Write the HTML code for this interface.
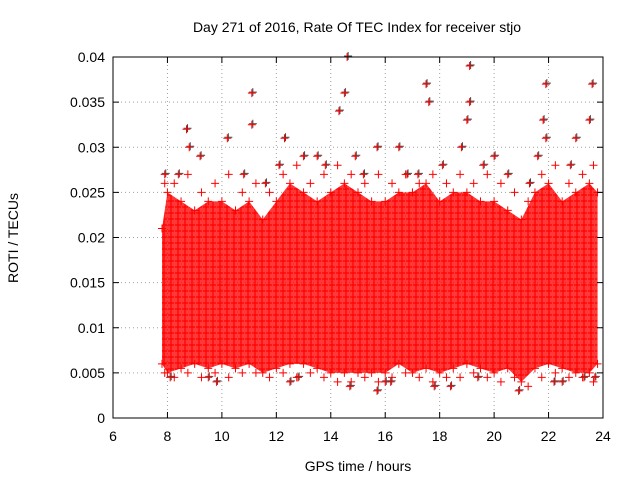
<!DOCTYPE html>
<html><head><meta charset="utf-8"><style>
html,body{margin:0;padding:0;background:#fff;}
svg{display:block;font-family:"Liberation Sans",sans-serif;}
</style></head><body>
<svg id="chart" width="640" height="480" viewBox="0 0 640 480">
<defs>
<pattern id="plusPat" width="7" height="6" patternUnits="userSpaceOnUse">
<rect width="7" height="6" fill="#f00" fill-opacity="0.78"/>
<path d="M0,3H6M3,0V6" stroke="#f00" stroke-width="1.2"/>
</pattern>
</defs>
<rect x="0" y="0" width="640" height="480" fill="#fff"/>
<text x="357" y="32" font-size="14" text-anchor="middle" fill="#000">Day 271 of 2016, Rate Of TEC Index for receiver stjo</text>
<text transform="translate(18,238) rotate(-90)" font-size="14" text-anchor="middle">ROTI / TECUs</text>
<text x="358" y="471" font-size="14" text-anchor="middle">GPS time / hours</text>
<g id="grid"></g>
<g id="band"></g>
<g id="pts"></g>
<g id="axes"></g>
</svg>
<script>
const xTicks=[6,8,10,12,14,16,18,20,22,24];
const yTicks=[0,0.005,0.01,0.015,0.02,0.025,0.03,0.035,0.04];
const yTickLabels=["0","0.005","0.01","0.015","0.02","0.025","0.03","0.035","0.04"];
const bandTimes=[7.8,8,8.5,9,9.5,10,10.5,11,11.5,12,12.5,13,13.5,14,14.5,15,15.5,16,16.5,17,17.5,18,18.5,19,19.5,20,20.5,21,21.5,22,22.5,23,23.5,23.8];
const bandUpper=[0.021,0.025,0.024,0.023,0.024,0.024,0.023,0.024,0.022,0.024,0.026,0.025,0.024,0.025,0.026,0.025,0.024,0.024,0.025,0.025,0.026,0.024,0.025,0.025,0.024,0.024,0.023,0.022,0.025,0.026,0.024,0.025,0.026,0.025];
const bandLower=[0.006,0.005,0.0055,0.006,0.0055,0.006,0.0055,0.006,0.005,0.0055,0.006,0.006,0.0055,0.005,0.005,0.005,0.005,0.005,0.006,0.005,0.0055,0.005,0.0055,0.006,0.0055,0.005,0.0055,0.004,0.0055,0.006,0.0055,0.005,0.005,0.006];
const edgeT=[7.9,8.25,8.75,9.25,9.75,10.25,10.75,11.25,11.75,12.25,12.75,13.25,13.75,14.25,14.75,15.25,15.75,16.25,16.75,17.25,17.75,18.25,18.75,19.25,19.75,20.25,20.75,21.25,21.75,22.25,22.75,23.25,23.65];
const edgeHi=[0.026,0.026,0.027,0.025,0.026,0.027,0.025,0.026,0.025,0.027,0.028,0.026,0.027,0.028,0.027,0.026,0.027,0.026,0.027,0.026,0.027,0.026,0.027,0.026,0.027,0.026,0.025,0.024,0.027,0.028,0.026,0.027,0.028];
const edgeLo=[0.005,0.0045,0.005,0.0045,0.005,0.0045,0.005,0.005,0.0045,0.005,0.0045,0.005,0.0045,0.004,0.004,0.0045,0.004,0.0045,0.005,0.0045,0.004,0.0045,0.0045,0.005,0.0045,0.004,0.0045,0.0035,0.0045,0.005,0.0045,0.0045,0.004];
const outT=[11.1,11.1,14.6,14.5,14.3,17.5,17.6,19.1,19.0,19.1,21.9,21.8,21.9,23.6,23.5,8.7,8.8,10.2,12.3,15.7,16.5,13.0,13.5,18.8,20.0,23.0,9.2,12.1,7.9,16.8,20.5,8.1,9.5,12.5,14.7,15.7,17.8,18.4,20.9,16.2,22.5,23.7,10.8,13.8,15.2,19.6,21.3,22.8,8.4,11.6,14.9,17.2,18.1,21.6,9.8,12.8,16.0,19.4,22.2,23.3];
const outV=[0.036,0.0325,0.040,0.036,0.034,0.037,0.035,0.039,0.033,0.035,0.037,0.033,0.031,0.037,0.033,0.032,0.030,0.031,0.031,0.030,0.030,0.029,0.029,0.030,0.029,0.031,0.029,0.028,0.027,0.027,0.027,0.0045,0.0045,0.004,0.0035,0.003,0.0035,0.0035,0.003,0.004,0.004,0.0045,0.027,0.028,0.027,0.028,0.026,0.028,0.027,0.026,0.029,0.027,0.028,0.029,0.004,0.0045,0.004,0.0045,0.004,0.0045];
const X0=113,X1=603,Y0=418,Y1=57;
const xs=t=>X0+(t-6)/(24-6)*(X1-X0);
const ys=v=>Y0-v/0.04*(Y0-Y1);
const NS="http://www.w3.org/2000/svg";
function mk(tag,attrs,parent){const e=document.createElementNS(NS,tag);for(const k in attrs)e.setAttribute(k,attrs[k]);parent.appendChild(e);return e;}
const grid=document.getElementById('grid'),axes=document.getElementById('axes'),band=document.getElementById('band'),pts=document.getElementById('pts');
xTicks.forEach((t,i)=>{const x=xs(t);
 if(i>0&&i<xTicks.length-1){const g=mk('line',{x1:x,y1:Y0,x2:x,y2:Y1,stroke:'#a0a0a0','stroke-dasharray':'1,3'},grid);
 
 }
 mk('line',{x1:x,y1:Y0,x2:x,y2:Y0-6,stroke:'#000'},axes);mk('line',{x1:x,y1:Y1,x2:x,y2:Y1+6,stroke:'#000'},axes);
 const l=mk('text',{x:x,y:Y0+23,'font-size':14,'text-anchor':'middle'},axes);l.textContent=t;
 
 
});
yTicks.forEach((v,i)=>{const y=ys(v);
 if(i>0&&i<yTicks.length-1){const g=mk('line',{x1:X0,y1:y,x2:X1,y2:y,stroke:'#a0a0a0','stroke-dasharray':'1,3'},grid);
 
 }
 mk('line',{x1:X0,y1:y,x2:X0+6,y2:y,stroke:'#000'},axes);mk('line',{x1:X1,y1:y,x2:X1-6,y2:y,stroke:'#000'},axes);
 const l=mk('text',{x:X0-8,y:y+5,'font-size':14,'text-anchor':'end'},axes);l.textContent=yTickLabels[i];
 
 
});
const fr=mk('rect',{x:X0,y:Y1,width:X1-X0,height:Y0-Y1,fill:'none',stroke:'#000'},axes);


let d='';bandTimes.forEach((t,i)=>{d+=(i?'L':'M')+xs(t)+','+ys(bandUpper[i]);});
for(let i=bandTimes.length-1;i>=0;i--)d+='L'+xs(bandTimes[i])+','+ys(bandLower[i]);
const bp=mk('path',{d:d+'Z',fill:'url(#plusPat)'},band);


function plus(x,y,c){const p=mk('path',{d:`M${x-4},${y}H${x+4}M${x},${y-4}V${y+4}`,stroke:c,'stroke-width':1},pts);return p;}
bandTimes.forEach((t,i)=>{
 const a=plus(xs(t),ys(bandUpper[i]),'#f00');
 const b=plus(xs(t),ys(bandLower[i]),'#f00');
});
edgeT.forEach((t,i)=>{
 const a=plus(xs(t),ys(edgeHi[i]),'#f00');
 const b=plus(xs(t),ys(edgeLo[i]),'#f00');
});
outT.forEach((t,i)=>{
 const k=plus(xs(t)+1,ys(outV[i])-1,'#444');
 const p=plus(xs(t),ys(outV[i]),'#f00');
});
</script>
</body></html>
